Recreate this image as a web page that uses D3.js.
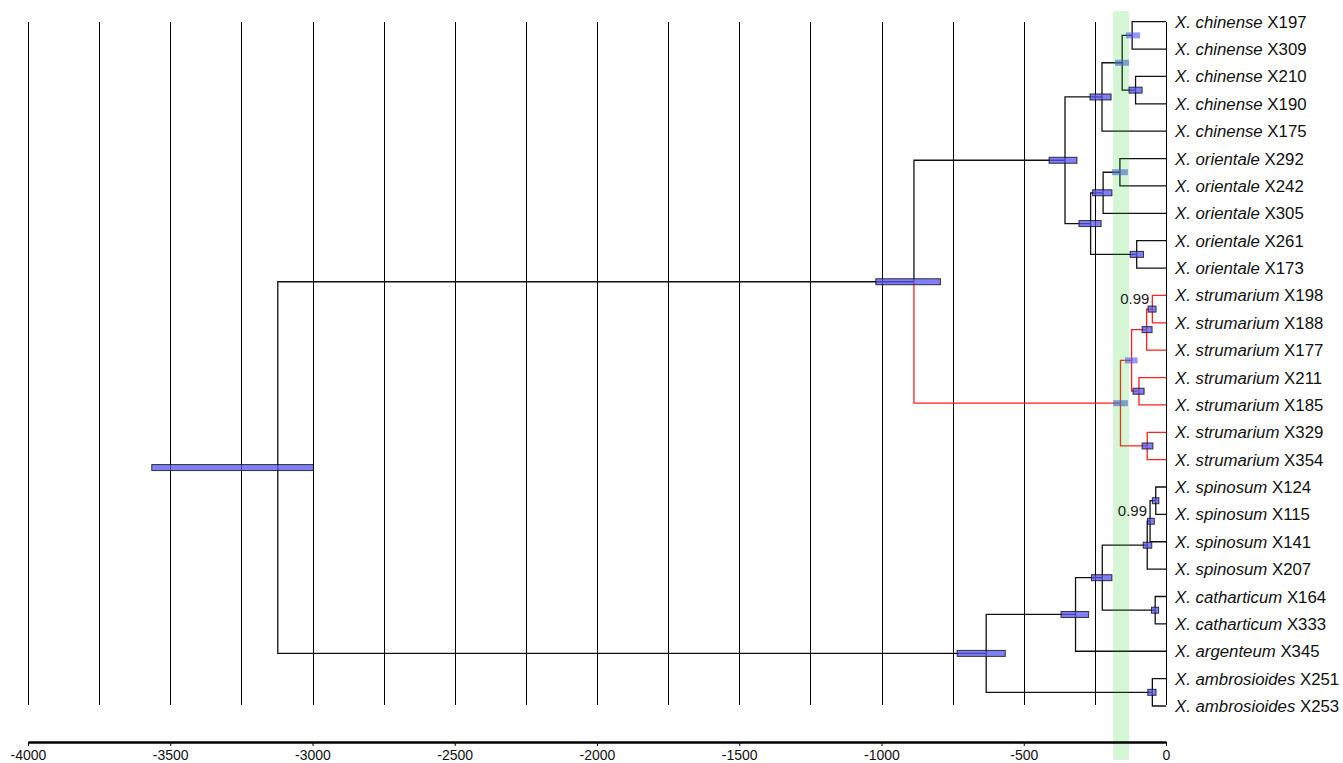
<!DOCTYPE html>
<html>
<head>
<meta charset="utf-8">
<script src="https://cdn.jsdelivr.net/npm/d3@7"></script>
<style>
  body { margin: 0; background: #fff; }
  svg { display: block; font-family: "Liberation Sans", Arial, sans-serif; }
</style>
</head>
<body>
<svg width="1343" height="763"></svg>
<script>
// tips, top to bottom
const tipIds = ["X197", "X309", "X210", "X190", "X175", "X292", "X242", "X305", "X261", "X173",
  "X198", "X188", "X177", "X211", "X185", "X329", "X354", "X124", "X115", "X141", "X207",
  "X164", "X333", "X345", "X251", "X253"];
const tipSpecies = ["chinense", "chinense", "chinense", "chinense", "chinense",
  "orientale", "orientale", "orientale", "orientale", "orientale",
  "strumarium", "strumarium", "strumarium", "strumarium", "strumarium", "strumarium", "strumarium",
  "spinosum", "spinosum", "spinosum", "spinosum", "catharticum", "catharticum", "argenteum",
  "ambrosioides", "ambrosioides"];

// internal nodes (ages in years before present, 95% HPD bars)
const nodeIds = ["root", "A", "B", "CO", "CHI", "CHI1", "CHI2", "CHI3", "ORI", "ORI1", "ORI2", "ORI3",
  "STR", "STR1", "STR2", "STR2a", "STR3", "STR4", "SCA", "SC", "SPI", "SPI1", "SPI2", "CAT", "AMB"];
const nodeChildren = [["A", "B"], ["CO", "STR"], ["SCA", "AMB"], ["CHI", "ORI"], ["CHI1", "X175"],
  ["CHI2", "CHI3"], ["X197", "X309"], ["X210", "X190"], ["ORI1", "ORI3"], ["ORI2", "X305"],
  ["X292", "X242"], ["X261", "X173"], ["STR1", "STR4"], ["STR2", "STR3"], ["STR2a", "X177"],
  ["X198", "X188"], ["X211", "X185"], ["X329", "X354"], ["SC", "X345"], ["SPI", "CAT"],
  ["SPI1", "X207"], ["SPI2", "X141"], ["X124", "X115"], ["X164", "X333"], ["X251", "X253"]];
const nodeAge = [-3122, -886, -632, -355, -225, -154, -119, -107, -265, -221, -162, -103,
  -160, -121, -68, -48, -95, -66, -318, -224, -66, -56, -36, -38, -48];
const hpdLow = [-3565, -1020, -734, -411, -267, -179, -141, -130, -306, -258, -190, -126,
  -186, -144, -84, -63, -116, -84, -369, -262, -80, -65, -48, -51, -64];
const hpdHigh = [-2997, -793, -565, -313, -193, -130, -91, -84, -228, -190, -134, -79,
  -134, -100, -49, -35, -77, -46, -272, -190, -50, -41, -25, -26, -35];
const posterior = [1, 1, 1, 1, 1, 0.7, 0.7, 1, 1, 1, 0.7, 1,
  0.7, 0.7, 1, 0.99, 1, 1, 1, 1, 1, 0.99, 1, 1, 1];

const highlightedClade = "STR";
const highlightRange = [-186, -130];
const axisTicks = d3.range(-4000, 1, 500);
const gridTicks = d3.range(-4000, 1, 250);

const svg = d3.select("svg");
const x = d3.scaleLinear().domain([-4000, 0]).range([28, 1166]);
const y = d3.scaleLinear().domain([0, tipIds.length - 1]).range([21.7, 706]);

// build tree
const nodes = {};
tipIds.forEach((id, i) => {
  nodes[id] = { id, age: 0, y: y(i), tip: true, species: tipSpecies[i], kids: [] };
});
nodeIds.forEach((id, i) => {
  nodes[id] = { id, age: nodeAge[i], lo: hpdLow[i], hi: hpdHigh[i], post: posterior[i], tip: false, kids: nodeChildren[i] };
});
function layout(n, parent, red) {
  n.parent = parent;
  n.red = red || n.id === highlightedClade;
  if (!n.tip) {
    n.kids.forEach(k => layout(nodes[k], n, n.red));
    n.y = d3.mean(n.kids, k => nodes[k].y);
  }
}
layout(nodes.root, null, false);
const all = Object.values(nodes);
const internal = all.filter(n => !n.tip);

// grid
svg.append("g")
  .selectAll("line")
  .data(gridTicks)
  .join("line")
  .attr("x1", d => Math.round(x(d)) + 0.5)
  .attr("x2", d => Math.round(x(d)) + 0.5)
  .attr("y1", 22)
  .attr("y2", 705)
  .attr("stroke", "#000")
  .attr("stroke-width", 1);

// branches
svg.append("g")
  .selectAll("path")
  .data(all.filter(n => n.parent))
  .join("path")
  .attr("d", n => `M${x(n.parent.age)},${n.parent.y}V${n.y}H${x(n.age)}`)
  .attr("fill", "none")
  .attr("stroke", n => n.red ? "#ff2020" : "#111")
  .attr("stroke-width", 1.3);

// HPD bars
svg.append("g")
  .selectAll("rect")
  .data(internal)
  .join("rect")
  .attr("x", n => x(n.lo))
  .attr("width", n => x(n.hi) - x(n.lo))
  .attr("y", n => n.y - 3)
  .attr("height", 6)
  .attr("fill", "#5555f0")
  .attr("fill-opacity", n => n.post >= 0.95 ? 0.75 : 0.62)
  .attr("stroke", n => n.post >= 0.95 ? "#000" : "none")
  .attr("stroke-opacity", 0.75)
  .attr("stroke-width", 1);

// highlighted time window
svg.append("rect")
  .attr("x", x(highlightRange[0]))
  .attr("width", x(highlightRange[1]) - x(highlightRange[0]))
  .attr("y", 11)
  .attr("height", 749)
  .attr("fill", "#00c800")
  .attr("fill-opacity", 0.17);

// posterior labels
svg.append("g")
  .selectAll("text")
  .data(internal.filter(n => n.post >= 0.95 && n.post < 1))
  .join("text")
  .attr("x", n => x(n.age) - 3)
  .attr("y", n => n.y - 5)
  .attr("text-anchor", "end")
  .attr("font-size", 15)
  .attr("fill", "#222")
  .text(n => n.post.toFixed(2));

// tip labels
const labels = svg.append("g")
  .selectAll("text")
  .data(all.filter(n => n.tip))
  .join("text")
  .attr("x", x(0) + 9)
  .attr("y", n => n.y)
  .attr("dy", "0.36em")
  .attr("font-size", 16.8)
  .attr("fill", "#111");
labels.append("tspan").attr("font-style", "italic").text(n => "X. " + n.species);
labels.append("tspan").text(n => " " + n.id);

// axis
const axis = svg.append("g")
  .attr("transform", "translate(0,742)")
  .call(d3.axisBottom(x).tickValues(axisTicks).tickSize(4).tickSizeOuter(0).tickPadding(4).tickFormat(d => String(d)));
axis.select(".domain").attr("stroke-width", 2.5);
axis.selectAll("text").attr("font-size", 14).attr("font-family", "Liberation Sans, Arial, sans-serif").attr("fill", "#111");
</script>
</body>
</html>
